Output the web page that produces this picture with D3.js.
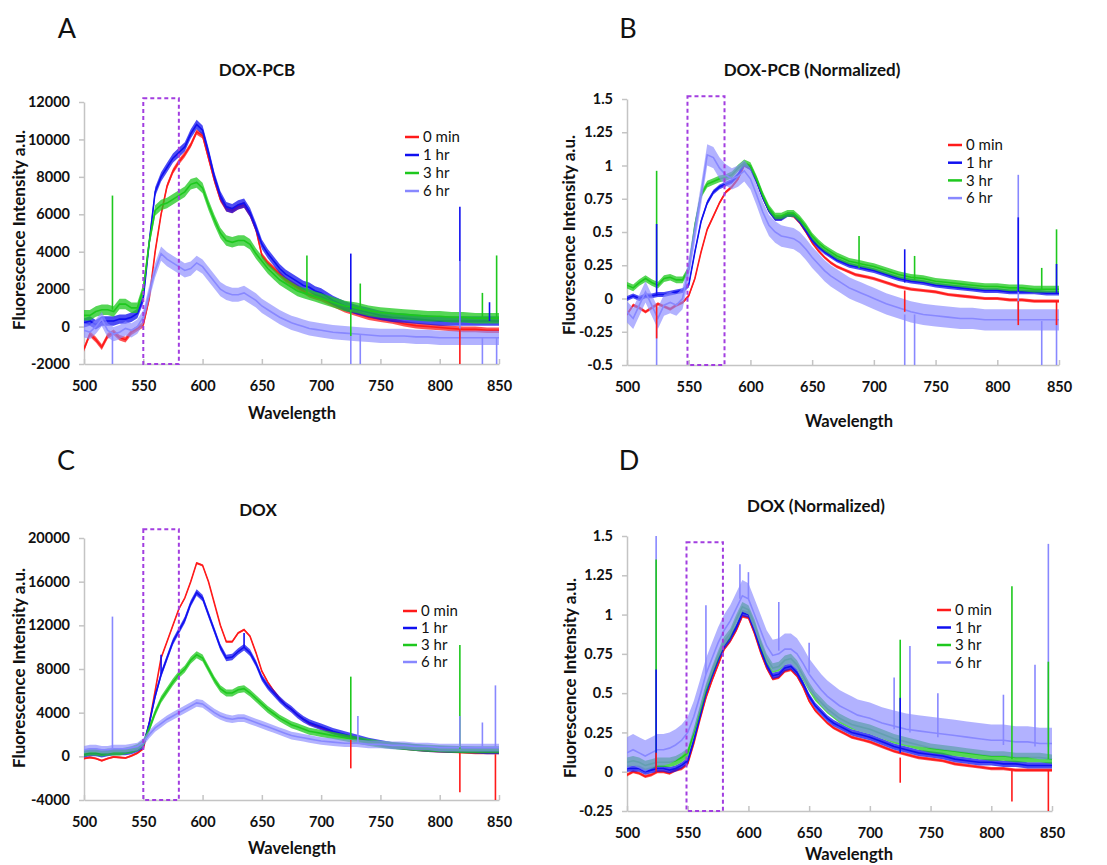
<!DOCTYPE html>
<html>
<head>
<meta charset="utf-8">
<script src="https://cdn.jsdelivr.net/npm/d3@7/dist/d3.min.js"></script>
<style>
body { margin: 0; background: #fff; }
svg text { font-family: Lato, "Open Sans", sans-serif; fill: #111; }
</style>
</head>
<body>
<svg id="chart" width="1107" height="865"></svg>
<script>
// wavelength grid shared by every spectrum (nm)
var wavelengths = [500,505,510,515,520,525,530,535,540,545,
    550,555,560,565,570,575,580,585,590,595,
    600,605,610,615,620,625,630,635,640,645,
    650,655,660,665,670,675,680,685,690,695,
    700,710,720,730,740,750,760,770,780,790,800,810,820,830,840,850];

var seriesNames = ["0 min", "1 hr", "3 hr", "6 hr"];
var seriesColors = ["#ff1a1a", "#1010f0", "#1ec81e", "#8888ff"];
var xTicks = [500,550,600,650,700,750,800,850];

// A: DOX-PCB
var doxPcb0min = [-1200,-400,-700,-1100,-500,-300,-600,-700,-300,-100,
    100,1500,4000,6000,7500,8300,8800,9200,9700,10400,
    10200,9000,7800,6800,6300,6200,6400,6500,6000,5200,
    3800,3400,3100,2800,2500,2300,2100,1900,1700,1600,
    1500,1200,900,700,500,400,300,150,50,0,-50,-100,-150,-150,-200,-200];
var doxPcb1hr = [200,300,100,300,300,300,400,400,500,700,
    1500,4500,7200,8000,8500,9000,9300,9600,10300,10800,
    10500,9300,8000,7000,6400,6300,6500,6600,6100,5300,
    4400,3900,3500,3100,2800,2600,2400,2200,2100,1900,
    1800,1400,1100,900,750,600,500,450,400,350,300,300,300,300,300,300];
var doxPcb3hr = [600,600,800,900,900,800,1200,1200,1000,1000,
    2000,4500,6200,6500,6600,6800,7000,7200,7600,7700,
    7400,6500,5700,5000,4600,4500,4600,4600,4400,3900,
    3500,3100,2800,2500,2300,2100,1900,1800,1700,1600,
    1500,1300,1100,1000,850,750,700,650,600,550,550,500,500,450,450,450];
var doxPcb6hr = [-200,-300,0,400,-200,-400,-300,-100,-200,0,
    500,1800,3000,3900,3600,3400,3200,3000,3100,3400,
    3200,2800,2400,2000,1800,1700,1700,1800,1600,1400,
    1100,900,700,500,350,200,100,0,-100,-150,
    -200,-300,-350,-400,-450,-500,-500,-500,-550,-550,-600,-600,-600,-600,-600,-600];
var doxPcbNoise = [150, 250, 280, 380];
// spikes: [wavelength, series, from, to]
var doxPcbSpikes = [[524,2,900,7000],[524,3,-300,-2000],[688,2,1700,3800],[725,1,900,3900],
    [725,2,900,-500],[725,3,-400,-2000],[733,2,900,2300],[733,3,-400,-2000],
    [817,1,300,6400],[817,3,-600,3500],[817,0,-100,-2000],[836,2,500,1800],
    [836,3,-600,-2000],[842,1,300,1300],[848,2,400,3800],[848,3,-600,-2000]];

// B: DOX-PCB normalized
var dpNorm0min = [-0.12,-0.05,-0.07,-0.1,-0.07,-0.04,-0.06,-0.08,-0.05,-0.03,
    0.02,0.15,0.35,0.52,0.62,0.72,0.8,0.84,0.9,1.0,
    0.98,0.88,0.76,0.66,0.6,0.6,0.63,0.62,0.57,0.5,
    0.42,0.36,0.31,0.27,0.24,0.22,0.2,0.18,0.17,0.16,
    0.15,0.12,0.09,0.07,0.06,0.05,0.03,0.02,0.01,0,0,-0.01,-0.01,-0.02,-0.02,-0.02];
var dpNorm1hr = [0,0.02,0,0.02,0.02,0.03,0.03,0.04,0.05,0.06,
    0.1,0.35,0.58,0.72,0.8,0.84,0.86,0.88,0.93,1.01,
    0.98,0.88,0.76,0.66,0.6,0.6,0.63,0.63,0.58,0.51,
    0.44,0.39,0.35,0.32,0.29,0.27,0.25,0.24,0.23,0.22,
    0.21,0.18,0.15,0.13,0.12,0.1,0.09,0.08,0.07,0.06,0.06,0.05,0.05,0.05,0.04,0.04];
var dpNorm3hr = [0.1,0.08,0.12,0.15,0.12,0.1,0.15,0.16,0.14,0.14,
    0.22,0.55,0.78,0.86,0.88,0.9,0.91,0.93,0.98,1.02,
    1.0,0.9,0.78,0.68,0.62,0.62,0.64,0.64,0.6,0.54,
    0.47,0.42,0.38,0.35,0.32,0.3,0.28,0.27,0.26,0.25,
    0.24,0.21,0.18,0.16,0.15,0.13,0.12,0.11,0.1,0.09,0.09,0.08,0.08,0.07,0.07,0.07];
var dpNorm6hr = [-0.1,-0.15,-0.05,0.05,-0.05,-0.15,-0.05,-0.03,-0.05,0,
    0.22,0.5,0.78,1.08,1.06,0.98,0.93,0.9,0.92,0.96,
    0.9,0.78,0.65,0.55,0.5,0.47,0.46,0.45,0.42,0.37,
    0.31,0.26,0.21,0.17,0.14,0.11,0.08,0.06,0.04,0.02,
    0,-0.04,-0.07,-0.1,-0.12,-0.13,-0.14,-0.15,-0.15,-0.16,-0.16,-0.16,-0.16,-0.16,-0.16,-0.16];
var dpNormNoise = [0.012, 0.018, 0.025, 0.08];
var dpNormSpikes = [[524,2,0.12,0.96],[524,1,0.02,0.56],[524,0,-0.05,-0.3],[524,3,-0.15,-0.5],
    [688,2,0.23,0.47],[725,1,0.12,0.37],[725,0,0.06,-0.1],[725,3,-0.12,-0.5],
    [733,2,0.14,0.32],[733,3,-0.12,-0.5],[817,3,-0.17,0.93],[817,1,0.05,0.61],
    [817,0,-0.02,-0.2],[836,2,0.07,0.23],[836,3,-0.17,-0.5],[848,2,0.06,0.52],
    [848,1,0.04,0.26],[848,0,-0.02,-0.2],[848,3,-0.17,-0.5]];

// C: DOX
var dox0min = [-200,-100,-200,-400,-200,-50,-100,-150,50,300,
    700,3000,6000,9000,10500,12000,13500,14500,16000,17700,
    17500,16000,14000,12000,10500,10500,11300,11600,11000,9500,
    7800,6800,6000,5300,4700,4300,3800,3400,3000,2800,
    2600,2200,1900,1600,1300,1100,900,700,600,500,450,400,350,300,300,300];
var dox1hr = [200,300,300,200,300,400,400,400,500,700,
    1000,3000,5500,7500,9000,10500,11500,12500,14000,15000,
    14500,13000,11500,10000,9000,9100,9600,10000,9500,8500,
    7200,6400,5800,5200,4700,4300,3800,3400,3100,2900,
    2700,2300,2000,1700,1400,1200,1000,900,800,700,650,600,600,550,500,500];
var dox3hr = [300,400,400,300,400,400,400,500,600,800,
    1200,2500,4000,5200,6000,6800,7500,8000,8800,9300,
    9000,8000,7000,6200,5800,5800,6100,6200,5800,5300,
    4800,4300,3900,3500,3200,2900,2700,2500,2300,2200,
    2100,1900,1700,1500,1300,1100,1000,900,800,750,700,650,600,600,600,600];
var dox6hr = [600,700,700,600,600,700,700,700,800,900,
    1300,2000,2600,3000,3400,3700,4000,4300,4600,4900,
    4800,4400,4000,3700,3500,3400,3500,3500,3300,3100,
    2900,2700,2500,2300,2100,1900,1800,1700,1600,1500,
    1400,1300,1200,1200,1100,1100,1000,1000,900,900,800,800,800,800,800,800];
var doxNoise = [100, 300, 320, 350];
var doxSpikes = [[524,3,700,12800],[565,1,7500,9300],[635,1,10000,11300],[725,2,1600,7300],
    [725,0,1500,-1100],[731,3,1200,3700],[817,2,700,10200],[817,3,800,3700],
    [817,0,300,-3300],[836,3,800,3100],[847,3,800,6500],[847,0,200,-4000]];

// D: DOX normalized
var doxNorm0min = [-0.02,0,-0.01,-0.03,-0.02,0,0,-0.01,0.01,0.02,
    0.05,0.18,0.33,0.47,0.58,0.68,0.78,0.83,0.9,0.99,
    0.98,0.88,0.76,0.66,0.59,0.6,0.64,0.65,0.61,0.54,
    0.45,0.39,0.35,0.31,0.28,0.26,0.24,0.22,0.21,0.2,
    0.19,0.16,0.13,0.11,0.09,0.08,0.07,0.05,0.04,0.03,0.02,0.02,0.01,0.01,0.01,0.01];
var doxNorm1hr = [0.02,0.02,0.02,0,0.01,0.02,0.02,0.01,0.02,0.04,
    0.07,0.2,0.35,0.5,0.61,0.71,0.8,0.85,0.92,1.01,
    1.0,0.9,0.78,0.68,0.61,0.62,0.66,0.67,0.63,0.56,
    0.48,0.42,0.38,0.34,0.31,0.29,0.27,0.25,0.24,0.23,
    0.22,0.19,0.16,0.14,0.12,0.11,0.1,0.08,0.07,0.06,0.06,0.05,0.05,0.04,0.04,0.04];
var doxNorm3hr = [0.06,0.07,0.06,0.04,0.05,0.06,0.06,0.06,0.07,0.09,
    0.12,0.25,0.39,0.53,0.64,0.74,0.83,0.88,0.97,1.05,
    1.03,0.94,0.82,0.72,0.66,0.67,0.71,0.72,0.68,0.61,
    0.54,0.48,0.44,0.4,0.37,0.34,0.32,0.3,0.29,0.28,
    0.27,0.24,0.21,0.19,0.17,0.15,0.14,0.13,0.12,0.11,0.1,0.1,0.09,0.09,0.09,0.08];
var doxNorm6hr = [0.12,0.14,0.12,0.1,0.12,0.14,0.14,0.15,0.17,0.2,
    0.25,0.35,0.48,0.62,0.72,0.82,0.9,0.96,1.04,1.12,
    1.1,1.0,0.9,0.8,0.74,0.75,0.78,0.78,0.75,0.69,
    0.62,0.57,0.52,0.48,0.45,0.42,0.4,0.38,0.36,0.35,
    0.34,0.31,0.29,0.27,0.26,0.25,0.24,0.23,0.22,0.21,0.2,0.2,0.19,0.19,0.18,0.18];
var doxNormNoise = [0.01, 0.02, 0.03, 0.1];
var doxNormSpikes = [[524,3,0.14,1.5],[524,2,0.06,1.35],[524,1,0.02,0.65],[524,0,0,0.12],
    [565,3,0.62,1.06],[593,3,1.1,1.32],[600,3,1.1,1.27],[625,3,0.77,1.08],[650,3,0.63,0.82],
    [720,3,0.27,0.6],[725,2,0.18,0.84],[725,1,0.12,0.47],[725,0,0.09,-0.07],[733,3,0.25,0.8],
    [756,3,0.22,0.5],[810,3,0.17,0.49],[817,2,0.08,1.18],[817,0,0.01,-0.19],
    [836,3,0.16,0.68],[847,3,0.16,1.45],[847,2,0.08,0.7],[847,0,0.01,-0.25]];

var panels = [
  { letter: "A", title: "DOX-PCB", series: [doxPcb0min, doxPcb1hr, doxPcb3hr, doxPcb6hr],
    noise: doxPcbNoise, spikes: doxPcbSpikes, yTicks: d3.range(-2000, 12001, 2000), box: [550, 580, -2000, 12200],
    left: 84, right: 499, top: 102, bottom: 364, titleX: 257, titleY: 76, letterX: 67, letterY: 38,
    yLabelX: 19, yLabelY: 230, xLabelX: 292, xLabelY: 419, legX: 405, legY: 137, legDy: 18 },
  { letter: "B", title: "DOX-PCB (Normalized)", series: [dpNorm0min, dpNorm1hr, dpNorm3hr, dpNorm6hr],
    noise: dpNormNoise, spikes: dpNormSpikes, yTicks: d3.range(-0.5, 1.51, 0.25), box: [549, 579, -0.5, 1.52],
    left: 627, right: 1059, top: 99, bottom: 365, titleX: 812, titleY: 76, letterX: 628, letterY: 38,
    yLabelX: 569, yLabelY: 235, xLabelX: 849, xLabelY: 427, legX: 948, legY: 145, legDy: 17.7 },
  { letter: "C", title: "DOX", series: [dox0min, dox1hr, dox3hr, dox6hr],
    noise: doxNoise, spikes: doxSpikes, yTicks: d3.range(-4000, 20001, 4000), box: [550, 580, -4000, 20800],
    left: 84, right: 499, top: 538, bottom: 800, titleX: 258, titleY: 516, letterX: 66, letterY: 470,
    yLabelX: 19, yLabelY: 668, xLabelX: 292, xLabelY: 854, legX: 403, legY: 611, legDy: 17 },
  { letter: "D", title: "DOX (Normalized)", series: [doxNorm0min, doxNorm1hr, doxNorm3hr, doxNorm6hr],
    noise: doxNormNoise, spikes: doxNormSpikes, yTicks: d3.range(-0.25, 1.51, 0.25), box: [549, 579, -0.25, 1.46],
    left: 627, right: 1052, top: 536, bottom: 811, titleX: 816, titleY: 512, letterX: 629, letterY: 470,
    yLabelX: 570, yLabelY: 678, xLabelX: 849, xLabelY: 860, legX: 937, legY: 610, legDy: 17.5 }
];

var svg = d3.select("#chart");
var fmt = function(d) { return String(+d.toFixed(2)); };

panels.forEach(function(p, pi) {
    var ext = d3.extent(p.yTicks);
    var x = d3.scaleLinear().domain([500, 850]).range([p.left, p.right]);
    var y = d3.scaleLinear().domain(ext).range([p.bottom, p.top]);
    var g = svg.append("g");

    g.append("clipPath").attr("id", "clip" + pi).append("rect")
        .attr("x", p.left).attr("y", p.top - 2).attr("width", p.right - p.left + 2).attr("height", p.bottom - p.top + 2);

    // axes
    var yAxis = g.append("g").attr("transform", "translate(" + p.left + ",0)")
        .call(d3.axisLeft(y).tickValues(p.yTicks).tickFormat(fmt).tickSizeInner(5).tickSizeOuter(0).tickPadding(9));
    var xAxis = g.append("g").attr("transform", "translate(0," + p.bottom + ")")
        .call(d3.axisBottom(x).tickValues(xTicks).tickSizeInner(-5).tickSizeOuter(0).tickPadding(17));
    [xAxis, yAxis].forEach(function(a) {
        a.select(".domain").attr("stroke", "#c4c4c4").attr("stroke-width", 1.5);
        a.selectAll(".tick line").attr("stroke", "#c4c4c4").attr("stroke-width", 1.5);
        a.selectAll(".tick text").attr("font-size", 14.5).attr("font-weight", "bold")
            .attr("font-family", "Lato, sans-serif").attr("fill", "#111");
    });

    var plot = g.append("g").attr("clip-path", "url(#clip" + pi + ")");

    p.series.forEach(function(vals, si) {
        var pts = wavelengths.map(function(w, i) { return [w, vals[i]]; });
        var nz = p.noise[si];
        plot.append("path").datum(pts)
            .attr("fill", seriesColors[si]).attr("fill-opacity", si === 3 ? 0.65 : 0.75)
            .attr("d", d3.area().x(function(d) { return x(d[0]); })
                .y0(function(d) { return y(d[1] - nz); }).y1(function(d) { return y(d[1] + nz); }));
        plot.append("path").datum(pts)
            .attr("fill", "none").attr("stroke", seriesColors[si]).attr("stroke-width", 1.6)
            .attr("d", d3.line().x(function(d) { return x(d[0]); }).y(function(d) { return y(d[1]); }));
    });

    // longer spikes underneath, shorter ones on top
    var spikes = p.spikes.slice().sort(function(a, b) {
        return Math.abs(b[3] - b[2]) - Math.abs(a[3] - a[2]);
    });
    plot.selectAll(".spike").data(spikes).enter().append("line")
        .attr("x1", function(d) { return x(d[0]); }).attr("x2", function(d) { return x(d[0]); })
        .attr("y1", function(d) { return y(d[2]); }).attr("y2", function(d) { return y(d[3]); })
        .attr("stroke", function(d) { return seriesColors[d[1]]; }).attr("stroke-width", 1.6);

    // dashed region 550-580 nm
    g.append("rect")
        .attr("x", x(p.box[0])).attr("y", y(p.box[3]))
        .attr("width", x(p.box[1]) - x(p.box[0])).attr("height", y(p.box[2]) - y(p.box[3]))
        .attr("fill", "none").attr("stroke", "#a23ee0").attr("stroke-width", 2).attr("stroke-dasharray", "4,3");

    // texts
    g.append("text").attr("x", p.letterX).attr("y", p.letterY).attr("text-anchor", "middle")
        .attr("font-size", 27).attr("font-family", "'Open Sans', sans-serif").text(p.letter);
    g.append("text").attr("x", p.titleX).attr("y", p.titleY).attr("text-anchor", "middle")
        .attr("font-size", 17).attr("font-weight", "bold").text(p.title);
    g.append("text").attr("transform", "translate(" + p.yLabelX + "," + p.yLabelY + ") rotate(-90)")
        .attr("text-anchor", "middle").attr("dy", "0.35em")
        .attr("font-size", 17).attr("font-weight", "bold").text("Fluorescence Intensity a.u.");
    g.append("text").attr("x", p.xLabelX).attr("y", p.xLabelY).attr("text-anchor", "middle")
        .attr("font-size", 16.5).attr("font-weight", "bold").text("Wavelength");

    // legend
    var leg = g.selectAll(".leg").data(seriesNames).enter().append("g")
        .attr("transform", function(d, i) { return "translate(" + p.legX + "," + (p.legY + i * p.legDy) + ")"; });
    leg.append("line").attr("x1", 0).attr("x2", 14).attr("y1", 0).attr("y2", 0)
        .attr("stroke", function(d, i) { return seriesColors[i]; }).attr("stroke-width", 2.5);
    leg.append("text").attr("x", 18).attr("dy", "0.35em").attr("font-size", 15).text(function(d) { return d; });
});
</script>
</body>
</html>
